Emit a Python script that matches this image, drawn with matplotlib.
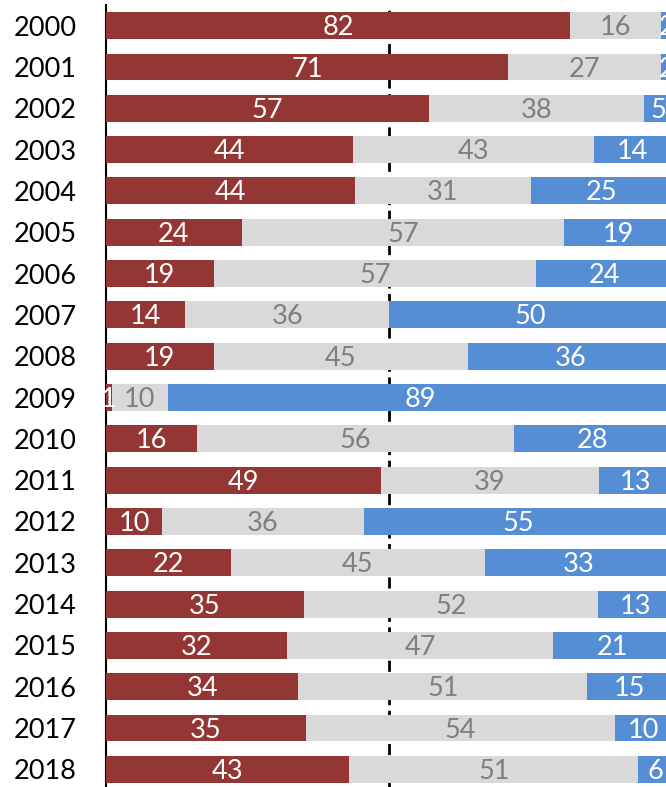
import numpy as np
import matplotlib.pyplot as plt

plt.rcParams['font.family'] = ['Lato', 'DejaVu Sans']

# Data
years = [str(y) for y in range(2000, 2019)]
red = [82, 71, 57, 44, 44, 24, 19, 14, 19, 1, 16, 49, 10, 22, 35, 32, 34, 35, 43]
gray = [16, 27, 38, 43, 31, 57, 57, 36, 45, 10, 56, 39, 36, 45, 52, 47, 51, 54, 51]
blue = [2, 2, 5, 14, 25, 19, 24, 50, 36, 89, 28, 13, 55, 33, 13, 21, 15, 10, 6]

red_c = '#943634'
gray_c = '#D9D9D9'
blue_c = '#558ED5'

r = np.array(red, float)
g = np.array(gray, float)
b = np.array(blue, float)
tot = r + g + b
rn, gn, bn = r / tot, g / tot, b / tot

fig = plt.figure(figsize=(6.66, 7.87), dpi=100)
# axes reaches a little past the right edge (picture is cropped there)
ax = fig.add_axes([106 / 666, -3 / 787, 566 / 666, 785 / 787])

y = np.arange(len(years))
h = 0.65
ax.barh(y, rn, height=h, color=red_c, zorder=3)
ax.barh(y, gn, left=rn, height=h, color=gray_c, zorder=3)
ax.barh(y, bn, left=rn + gn, height=h, color=blue_c, zorder=3)

ax.axvline(0.5, color='black', lw=2, ls=(0, (4, 2)), zorder=1)

fs = 19.5
dy = 0.05  # labels sit a touch low, like the original
for i in range(len(years)):
    ax.text(rn[i] / 2, y[i] + dy, str(red[i]), color='white', ha='center',
            va='center', fontsize=fs, zorder=4)
    ax.text(rn[i] + gn[i] / 2, y[i] + dy, str(gray[i]), color='#7F7F7F',
            ha='center', va='center', fontsize=fs, zorder=4)
    ax.text(rn[i] + gn[i] + bn[i] / 2, y[i] + dy, str(blue[i]), color='white',
            ha='center', va='center', fontsize=fs, zorder=4)

ax.set_xlim(0, 1)
ax.set_ylim(18.5, -0.5)
ax.set_yticks(y)
ax.set_yticklabels(years, fontsize=fs)
ax.tick_params(axis='y', length=0, pad=21)
ax.set_xticks([])
for s in ['top', 'right', 'bottom']:
    ax.spines[s].set_visible(False)
ax.spines['left'].set_linewidth(1.5)
ax.spines['left'].set_color('black')
ax.spines['left'].set_zorder(2)

fig.savefig('out.png', dpi=100)
